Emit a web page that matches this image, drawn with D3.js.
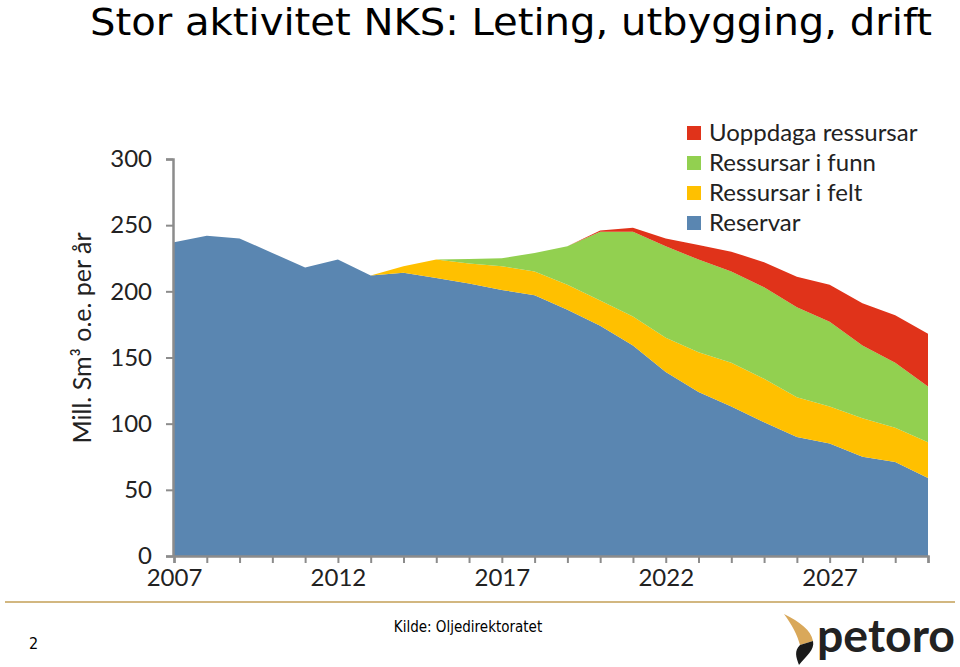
<!DOCTYPE html>
<html><head><meta charset="utf-8">
<script src="https://cdn.jsdelivr.net/npm/d3@7"></script>
<style>
html,body{margin:0;padding:0;background:#fff;}
svg{display:block;}
</style></head>
<body>
<svg id="chart" width="960" height="667"></svg>
<script>
const years = d3.range(2007, 2031);
const reservar      = [237,242,240,229,218,224,212,214,210,206,201,197,186,174,159,139,124,113,101,90,85,75,71,59];
const ressFelt      = [0,0,0,0,0,0,0,5,14,15,18,18,19,19,22,26,30,33,33,30,28,29,26,27];
const ressFunn      = [0,0,0,0,0,0,0,0,0,3.5,6,14,29,52,64,69,70,69,69,68,64,55,49,42];
const uoppdaga      = [0,0,0,0,0,0,0,0,0,0,0,0,0,1,3,6,11,15,19,23,28,32,36,40];
const seriesKeys    = ["Reservar","Ressursar i felt","Ressursar i funn","Uoppdaga ressursar"];
const seriesColors  = ["#5a86b1","#ffc000","#92d050","#e0331a"];
const yTicks        = [0,50,100,150,200,250,300];
const xLabelYears   = [2007,2012,2017,2022,2027];
const titleText     = "Stor aktivitet NKS: Leting, utbygging, drift";
const yAxisTitle    = "Mill. Sm³ o.e. per år";
const sourceText    = "Kilde: Oljedirektoratet";
const pageNumber    = "2";

const svg = d3.select("#chart");

const table = years.map((y,i)=>({year:y,
  "Reservar":reservar[i],
  "Ressursar i felt":ressFelt[i],
  "Ressursar i funn":ressFunn[i],
  "Uoppdaga ressursar":uoppdaga[i]}));

const x = d3.scaleLinear().domain([2007,2030]).range([174,928]);
const y = d3.scaleLinear().domain([0,300]).range([556,159]);

const stacked = d3.stack().keys(seriesKeys)(table);
const area = d3.area().x(d=>x(d.data.year)).y0(d=>y(d[0])).y1(d=>y(d[1]));

svg.append("g").selectAll("path").data(stacked).join("path")
  .attr("d", area)
  .attr("fill",(d,i)=>seriesColors[i]);

// Title
svg.append("text")
  .attr("x",90).attr("y",35)
  .attr("font-family","DejaVu Sans Condensed, DejaVu Sans, sans-serif")
  .attr("font-size",38)
  .attr("textLength",842).attr("lengthAdjust","spacingAndGlyphs")
  .attr("fill","#000")
  .text(titleText);

// Y axis
const yAxis = d3.axisLeft(y).tickValues(yTicks).tickSize(7).tickPadding(14).tickFormat(d3.format("d"));
const gy = svg.append("g").attr("transform","translate(173,0)").call(yAxis);
gy.select(".domain").attr("stroke","#8c8c8c").attr("stroke-width",2.5);
gy.selectAll(".tick line").attr("stroke","#8c8c8c").attr("stroke-width",2);
gy.selectAll(".tick text").attr("font-family","Lato, 'Open Sans', sans-serif").attr("font-size",24).attr("fill","#222");

// X axis
const xAxis = d3.axisBottom(x).tickValues(years).tickSize(7).tickPadding(6)
  .tickFormat(d=>xLabelYears.includes(d)? String(d):"");
const gx = svg.append("g").attr("transform","translate(0,556)").call(xAxis);
gx.select(".domain").attr("stroke","#8c8c8c").attr("stroke-width",2.5);
gx.selectAll(".tick line").attr("stroke","#8c8c8c").attr("stroke-width",2);
gx.selectAll(".tick text").attr("font-family","Lato, 'Open Sans', sans-serif").attr("font-size",24).attr("fill","#222");

// Y axis title
svg.append("text")
  .attr("transform","translate(91,338) rotate(-90)")
  .attr("text-anchor","middle")
  .attr("font-family","Lato, 'Open Sans', sans-serif")
  .attr("font-size",25).attr("fill","#222")
  .text(yAxisTitle);

// Legend
const legendOrder = [3,2,1,0];
const lg = svg.append("g");
legendOrder.forEach((si,row)=>{
  const ly = 133 + row*30;
  lg.append("rect").attr("x",687).attr("y",ly-7).attr("width",14).attr("height",14).attr("fill",seriesColors[si]);
  lg.append("text").attr("x",709).attr("y",ly+8)
    .attr("font-family","Lato, 'Open Sans', sans-serif").attr("font-size",24).attr("fill","#222")
    .text(seriesKeys[si]);
});

// Footer
svg.append("line").attr("x1",5).attr("x2",955).attr("y1",602).attr("y2",602)
  .attr("stroke","#d2b780").attr("stroke-width",2);
svg.append("text").attr("x",468).attr("y",632).attr("text-anchor","middle")
  .attr("font-family","DejaVu Sans Condensed, DejaVu Sans, sans-serif").attr("font-size",15).attr("fill","#000")
  .text(sourceText);
svg.append("text").attr("x",29).attr("y",649)
  .attr("font-family","DejaVu Sans Condensed, DejaVu Sans, sans-serif").attr("font-size",16).attr("fill","#000")
  .text(pageNumber);

// Logo
const logo = svg.append("g");
logo.append("path").attr("d","M784,614 C800,622 811,630 813,641 L800,645 C797,634 792,625 784,614 Z").attr("fill","#d9a85a");
logo.append("path").attr("d","M800,645 L813,641 C815,650 806,656 799,665 C796,657 794,651 800,645 Z").attr("fill","#1a1a1a");
logo.append("text").attr("x",817).attr("y",652)
  .attr("font-family","Lato, 'Open Sans', sans-serif").attr("font-weight","bold").attr("font-size",46).attr("fill","#222")
  .attr("textLength",138).attr("lengthAdjust","spacingAndGlyphs")
  .text("petoro");
</script>
</body></html>
